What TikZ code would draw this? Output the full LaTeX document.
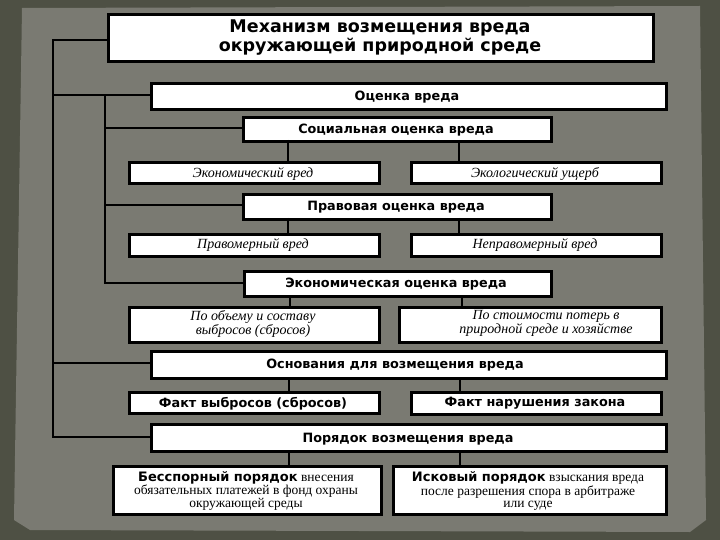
\documentclass[tikz,border=0pt]{standalone}
\usepackage{fontspec}
\setmainfont{Liberation Serif}
\newfontfamily\hb{DejaVu Sans}
\definecolor{bgdark}{HTML}{4E5044}
\definecolor{bgmid}{HTML}{7A7A72}
\tikzset{
  bx/.style={draw=black,line width=2.6pt,fill=white,inner sep=0pt,anchor=north west},
  hd/.style={font=\hb\bfseries\fontsize{12.8}{14}\selectfont,yshift=-2.5pt},
  it/.style={font=\itshape\fontsize{14}{11.5}\selectfont,yshift=-2.5pt},
  ln/.style={line width=2.6pt}
}
\begin{document}
\begin{tikzpicture}[x=1pt,y=-1pt]
\useasboundingbox (0,0) rectangle (720,540);
\fill[bgdark] (0,0) rectangle (720,540);
\fill[bgmid] (22,8) -- (700,6) -- (706,520) -- (690,532) -- (30,530) -- (14,520) -- cycle;
% boxes
\node[bx,minimum width=545pt,minimum height=47pt] (t) at (107,13) {};
\node[align=center,font=\hb\bfseries\fontsize{17.5}{19}\selectfont] at (380,38) {Механизм возмещения вреда\\окружающей природной среде};
\node[bx,minimum width=515pt,minimum height=26pt] (o) at (150,82) {};
\node[hd] at (407,95) {Оценка вреда};
\node[bx,minimum width=308pt,minimum height=24pt] (s) at (242,116) {};
\node[hd] at (396,128) {Социальная оценка вреда};
\node[bx,minimum width=250pt,minimum height=21pt] (s1) at (128,161) {};
\node[it] at (253,171.5) {Экономический вред};
\node[bx,minimum width=250pt,minimum height=21pt] (s2) at (410,161) {};
\node[it] at (535,171.5) {Экологический ущерб};
\node[bx,minimum width=308pt,minimum height=25pt] (p) at (242,193) {};
\node[hd] at (396,205) {Правовая оценка вреда};
\node[bx,minimum width=250pt,minimum height=22pt] (p1) at (128,233) {};
\node[it] at (253,243) {Правомерный вред};
\node[bx,minimum width=250pt,minimum height=22pt] (p2) at (410,233) {};
\node[it] at (535,243) {Неправомерный вред};
\node[bx,minimum width=307pt,minimum height=25pt] (e) at (243,270) {};
\node[hd] at (396,282) {Экономическая оценка вреда};
\node[bx,minimum width=250pt,minimum height=35pt] (e1) at (128,306) {};
\node[it,align=center] at (253,321) {По объему и составу\\выбросов (сбросов)};
\node[bx,minimum width=262pt,minimum height=35pt] (e2) at (398,306) {};
\node[it,align=center] at (546,321) {По стоимости потерь в\\природной среде и хозяйстве};
\node[bx,minimum width=515pt,minimum height=27pt] (b) at (150,350) {};
\node[hd] at (395,363) {Основания для возмещения вреда};
\node[bx,minimum width=250pt,minimum height=21pt] (b1) at (128,391) {};
\node[hd] at (253,401) {Факт выбросов (сбросов)};
\node[bx,minimum width=250pt,minimum height=22pt] (b2) at (410,391) {};
\node[hd] at (535,401) {Факт нарушения закона};
\node[bx,minimum width=515pt,minimum height=27pt] (r) at (150,423) {};
\node[hd] at (408,437) {Порядок возмещения вреда};
\node[bx,minimum width=268pt,minimum height=48pt] (r1) at (112,465) {};
\node[align=center,font=\fontsize{13.5}{12}\selectfont] at (246,491) {{\hb\bfseries\fontsize{13}{12}\selectfont Бесспорный порядок} внесения\\обязательных платежей в фонд охраны\\окружающей среды};
\node[bx,minimum width=273pt,minimum height=48pt] (r2) at (392,465) {};
\node[align=center,font=\fontsize{13.5}{12}\selectfont] at (528,491) {{\hb\bfseries\fontsize{13}{12}\selectfont Исковый порядок} взыскания вреда\\после разрешения спора в арбитраже\\или суде};
% connectors
\coordinate (L1) at (53,40);
\draw[ln] (t.west |- L1) -- (L1) -- (53,437) -- (r.west |- 0,437);
\draw[ln] (53,95) -- (o.west |- 0,95);
\draw[ln] (53,363) -- (b.west |- 0,363);
\draw[ln] (105,95) -- (105,283) -- (e.west |- 0,283);
\draw[ln] (105,128) -- (s.west |- 0,128);
\draw[ln] (105,205) -- (p.west |- 0,205);
\draw[ln] (288,140) -- (288,161);
\draw[ln] (459,140) -- (459,161);
\draw[ln] (288,218) -- (288,233);
\draw[ln] (459,218) -- (459,233);
\draw[ln] (290,295) -- (290,306);
\draw[ln] (462,295) -- (462,306);
\draw[ln] (289,377) -- (289,391);
\draw[ln] (460,377) -- (460,391);
\draw[ln] (289,450) -- (289,465);
\draw[ln] (460,450) -- (460,465);
\end{tikzpicture}
\end{document}
